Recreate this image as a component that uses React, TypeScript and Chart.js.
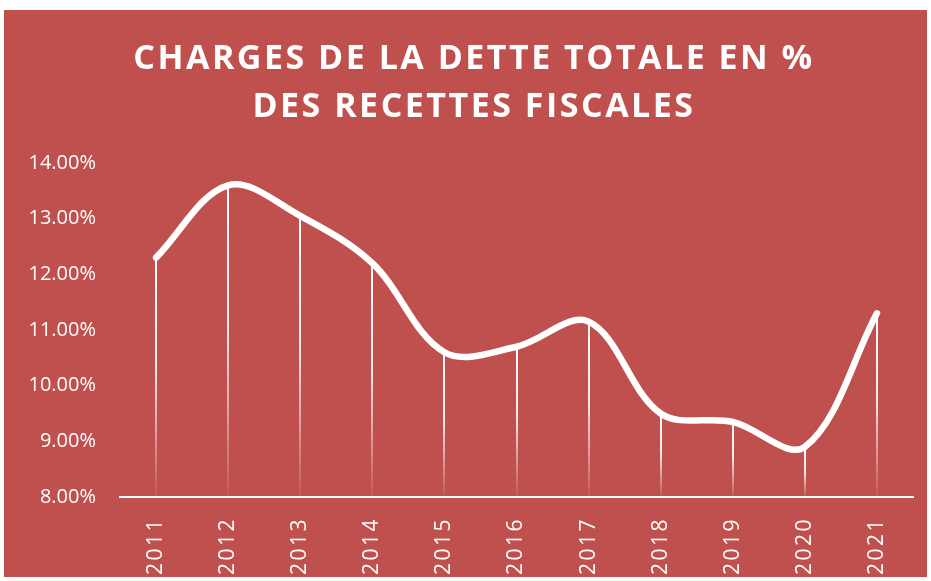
import React, { useEffect, useRef } from "react";
import { Chart, registerables } from "chart.js";

Chart.register(...registerables);

const titleLines = ["CHARGES DE LA DETTE TOTALE EN %", "DES RECETTES FISCALES"];
const years = ["2011", "2012", "2013", "2014", "2015", "2016", "2017", "2018", "2019", "2020", "2021"];
const chargesPct = [12.3, 13.6, 13.05, 12.2, 10.6, 10.7, 11.15, 9.5, 9.35, 8.9, 11.3];
const yMin = 8;
const yMax = 14;
const yStep = 1;

const BG = "#C0504D";

const dropLinesPlugin = {
  id: "dropLines",
  beforeDatasetsDraw(chart: any) {
    const { ctx, chartArea } = chart;
    const meta = chart.getDatasetMeta(0);
    ctx.save();
    meta.data.forEach((pt: any) => {
      const g = ctx.createLinearGradient(0, pt.y, 0, chartArea.bottom);
      g.addColorStop(0, "rgba(255,255,255,1)");
      g.addColorStop(0.45, "rgba(255,255,255,0.9)");
      g.addColorStop(1, "rgba(255,255,255,0.05)");
      ctx.strokeStyle = g;
      ctx.lineWidth = 2;
      ctx.beginPath();
      ctx.moveTo(Math.round(pt.x), pt.y);
      ctx.lineTo(Math.round(pt.x), chartArea.bottom);
      ctx.stroke();
    });
    ctx.restore();
  },
};

const spacingPlugin = {
  id: "spacingTitle",
  beforeDraw(chart: any) {
    chart.ctx.letterSpacing = "0px";
  },
  afterDatasetsDraw(chart: any) {
    chart.ctx.letterSpacing = "2.5px";
  },
  afterDraw(chart: any) {
    const ctx = chart.ctx;
    ctx.letterSpacing = "0px";
    ctx.save();
    ctx.letterSpacing = "2.5px";
    ctx.font = 'bold 34px "Open Sans"';
    ctx.fillStyle = "#ffffff";
    ctx.textAlign = "center";
    ctx.textBaseline = "alphabetic";
    ctx.fillText(titleLines[0], 470, 59);
    ctx.fillText(titleLines[1], 470, 107);
    ctx.restore();
    ctx.letterSpacing = "0px";
  },
};

export default function App() {
  const ref = useRef<HTMLCanvasElement | null>(null);

  useEffect(() => {
    if (!ref.current) return;
    const chart = new Chart(ref.current, {
      type: "line",
      data: {
        labels: years,
        datasets: [
          {
            data: chargesPct,
            borderColor: "#ffffff",
            borderWidth: 6.5,
            tension: 0.35,
            pointRadius: 0,
            pointHoverRadius: 0,
            borderCapStyle: "round",
            borderJoinStyle: "round",
            fill: false,
          },
        ],
      },
      options: {
        responsive: false,
        animation: false,
        events: [],
        layout: { padding: { top: 153, right: 14, left: 0, bottom: 0 } },
        plugins: {
          legend: { display: false },
          tooltip: { enabled: false },
          title: { display: false },
        },
        scales: {
          x: {
            type: "category",
            offset: true,
            grid: { display: false, drawTicks: false },
            border: { display: true, color: "#ffffff", width: 2 },
            ticks: {
              color: "#ffffff",
              font: { family: "'Open Sans'", size: 21 },
              minRotation: 90,
              maxRotation: 90,
              padding: 20,
              autoSkip: false,
              z: 1,
            },
            afterFit: (s: any) => {
              s.height = 80;
            },
          },
          y: {
            min: yMin,
            max: yMax,
            grid: { display: false, drawTicks: false },
            border: { display: false },
            ticks: {
              stepSize: yStep,
              color: "#ffffff",
              font: { family: "'Open Sans'", size: 20 },
              padding: 24,
              callback: (v: any) => Number(v).toFixed(2) + "%",
            },
            afterFit: (s: any) => {
              s.width = 116;
            },
          },
        },
      },
      plugins: [dropLinesPlugin, spacingPlugin],
    });
    return () => chart.destroy();
  }, []);

  return (
    <div style={{ position: "fixed", left: 0, top: 0, width: 931, height: 581, background: "#ffffff" }}>
      <div style={{ position: "absolute", left: 4, top: 10, width: 923, height: 567, background: BG }}>
        <canvas ref={ref} width={923} height={567} style={{ display: "block" }} />
      </div>
    </div>
  );
}
